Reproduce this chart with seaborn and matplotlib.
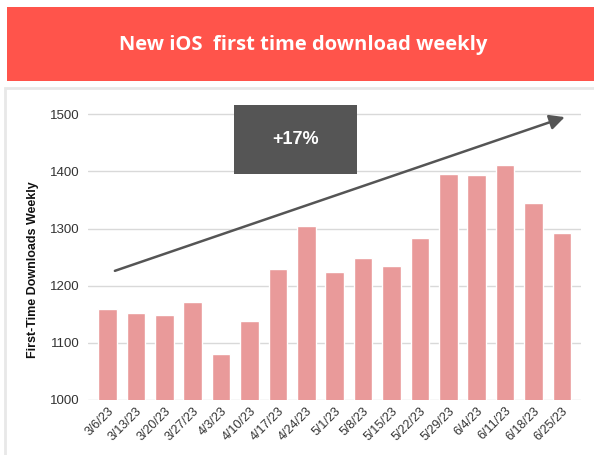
import pandas as pd
import seaborn as sns
import matplotlib.pyplot as plt
from matplotlib.patches import Rectangle, FancyArrowPatch

weeks = ["3/6/23", "3/13/23", "3/20/23", "3/27/23", "4/3/23", "4/10/23",
         "4/17/23", "4/24/23", "5/1/23", "5/8/23", "5/15/23", "5/22/23",
         "5/29/23", "6/4/23", "6/11/23", "6/18/23", "6/25/23"]
downloads = [1160, 1153, 1148, 1172, 1080, 1139,
             1229, 1305, 1224, 1248, 1234, 1283,
             1395, 1393, 1411, 1345, 1293]
yticks = [1000, 1100, 1200, 1300, 1400, 1500]
growth_label = "+17%"

df = pd.DataFrame({"week": weeks, "downloads": downloads})

sns.set_style("white")
plt.rcParams["font.family"] = ["Liberation Sans", "DejaVu Sans"]

fig = plt.figure(figsize=(5.94, 4.55), dpi=100)

# card + red banner
fig.patches.append(Rectangle((5 / 594, -0.01), 1.0, 0.8066 + 0.01, transform=fig.transFigure,
                             facecolor="white", edgecolor="#E8E8E8", linewidth=2, zorder=-5))
fig.patches.append(Rectangle((7 / 594, 0.822), 1.0, 0.163, transform=fig.transFigure,
                             facecolor="#FF544B", edgecolor="none", zorder=-5))
fig.text(0.511, 0.901, "New iOS  first time download weekly", ha="center", va="center",
         color="white", fontsize=14.5, fontweight="bold", family=["Open Sans", "DejaVu Sans"])

ax = fig.add_axes([0.148, 0.1209, 0.978 - 0.148, 0.774 - 0.1209])
ax.set_zorder(2)
ax.set_facecolor("none")

sns.barplot(data=df, x="week", y="downloads", color="#E99A9A", saturation=1,
            width=0.66, ax=ax, zorder=3)

ax.set_xlim(-0.69, 16.67)
ax.set_ylim(1000, 1520)
ax.set_yticks(yticks)
ax.grid(axis="y", color="#D9D9D9", linewidth=1, zorder=0)
ax.set_axisbelow(True)
sns.despine(ax=ax, left=True, bottom=True)
ax.tick_params(length=0, labelsize=9, colors="#333333")
ax.tick_params(axis="y", pad=6, labelsize=9.5)
for lbl in ax.get_xticklabels():
    lbl.set_rotation(45)
    lbl.set_ha("right")
    lbl.set_rotation_mode("anchor")
ax.set_xlabel("")
ax.set_ylabel("First-Time Downloads Weekly", fontsize=9, fontweight="bold", color="#111111")
ax.yaxis.set_label_coords(-0.099, 0.44)

# growth box and trend arrow
ax.add_patch(Rectangle((4.45, 1395), 8.78 - 4.45, 1517 - 1395, facecolor="#555555",
                       edgecolor="none", zorder=4, clip_on=False))
ax.text((4.45 + 8.78) / 2, (1395 + 1517) / 2, growth_label, ha="center", va="center",
        color="white", fontsize=13, fontweight="bold", zorder=5)
ax.add_patch(FancyArrowPatch((0.26, 1226), (16.1, 1495), arrowstyle="-|>,head_length=9,head_width=4.5",
                             color="#555555", linewidth=1.8, zorder=5, clip_on=False,
                             shrinkA=0, shrinkB=0))

fig.savefig("out.png", dpi=100)
